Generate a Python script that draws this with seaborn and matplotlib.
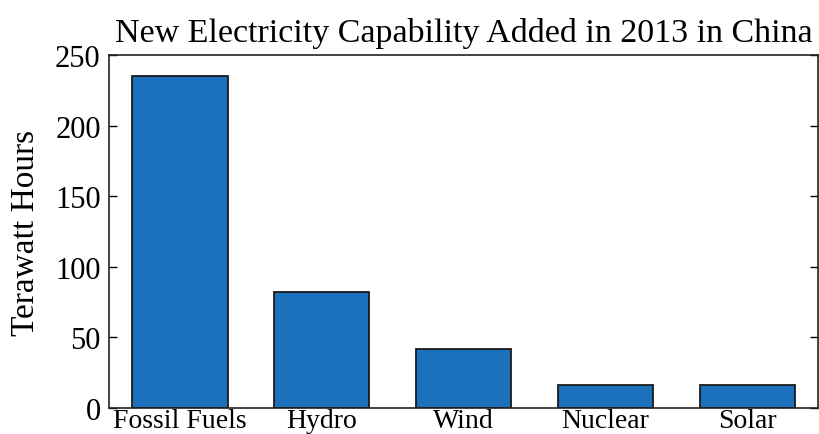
import matplotlib
matplotlib.use("Agg")
import matplotlib.pyplot as plt
import seaborn as sns
import pandas as pd

sources = ["Fossil Fuels", "Hydro", "Wind", "Nuclear", "Solar"]
twh = [235, 82, 42, 16, 16]

sns.set_theme(style="white")
plt.rcParams["font.family"] = ["Liberation Serif", "DejaVu Serif"]
plt.rcParams["text.color"] = "black"
plt.rcParams["axes.labelcolor"] = "black"

df = pd.DataFrame({"source": sources, "twh": twh})

fig, ax = plt.subplots(figsize=(8.2, 4.35), dpi=100)
sns.barplot(data=df, x="source", y="twh", color="#1c71bd", saturation=1,
            width=0.67, edgecolor="#1a1a1a", linewidth=1.3, ax=ax)

ax.set_xlim(-0.5, 4.5)
ax.set_ylim(0, 250)
ax.set_yticks([0, 50, 100, 150, 200, 250])
ax.set_xlabel("")
ax.set_ylabel("Terawatt Hours", fontsize=24, labelpad=10)
ax.set_title("New Electricity Capability Added in 2013 in China", fontsize=24.5, pad=10)
ax.tick_params(axis="y", direction="in", left=True, right=True, length=6,
               width=1, labelsize=22, pad=6, colors="black")
ax.tick_params(axis="x", length=0, labelsize=20, pad=0, colors="black")
for s in ax.spines.values():
    s.set_color("#222222")
    s.set_linewidth(1.2)

plt.subplots_adjust(left=0.133, right=0.998, top=0.871, bottom=0.06)
plt.savefig("out.png", dpi=100)
